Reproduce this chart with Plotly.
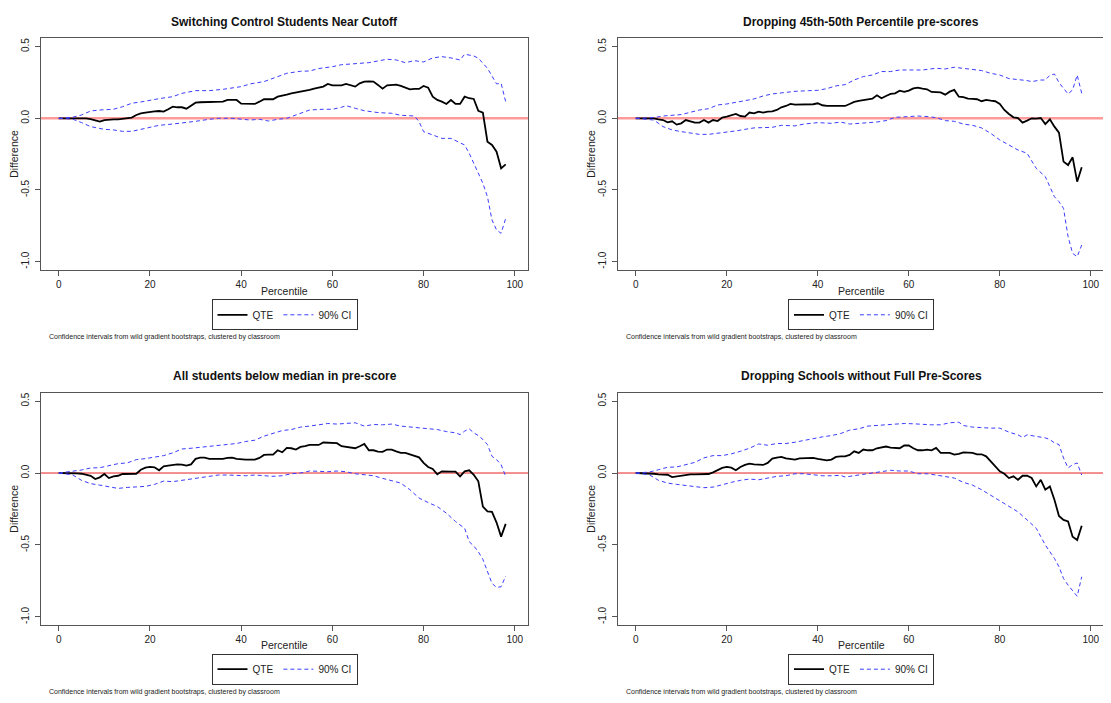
import plotly.graph_objects as go

# ---------------- data ----------------
titles = ["Switching Control Students Near Cutoff",
          "Dropping 45th-50th Percentile pre-scores",
          "All students below median in pre-score",
          "Dropping Schools without Full Pre-Scores"]
note_text = "Confidence intervals from wild gradient bootstraps, clustered by classroom"
x_ticks = [0, 20, 40, 60, 80, 100]
y_ticks = [-1.0, -0.5, 0.0, 0.5]
y_tick_labels = ["-1.0", "-0.5", "0.0", "0.5"]

percentile = list(range(99))

p1_qte = [0, 0, 0, 0, 0.003, 0, 0, -0.005, -0.015, -0.023,
          -0.012, -0.007, -0.007, -0.007, -0.002, 0.005, 0.005, 0.023, 0.035, 0.04,
          0.047, 0.049, 0.051, 0.047, 0.063, 0.081, 0.077, 0.077, 0.067, 0.086,
          0.109, 0.112, 0.112, 0.112, 0.114, 0.116, 0.116, 0.128, 0.128, 0.128,
          0.102, 0.1, 0.1, 0.1, 0.116, 0.133, 0.133, 0.133, 0.151, 0.156,
          0.165, 0.174, 0.179, 0.184, 0.193, 0.198, 0.207, 0.216, 0.221, 0.24,
          0.23, 0.23, 0.23, 0.24, 0.233, 0.221, 0.244, 0.256, 0.258, 0.256,
          0.233, 0.207, 0.23, 0.235, 0.235, 0.226, 0.216, 0.202, 0.205, 0.205,
          0.226, 0.214, 0.151, 0.128, 0.116, 0.1, 0.128, 0.1, 0.1, 0.151,
          0.14, 0.135, 0.053, 0.04, -0.163, -0.186, -0.233, -0.349, -0.321]
p1_hi_x = [0, 3, 5, 7, 9, 12, 14, 16, 18, 20, 22, 25, 27, 30, 33, 36, 40, 42, 45, 47,
           50, 53, 55, 57, 60, 62, 65, 68, 70, 72, 74, 76, 78, 80, 82, 84, 86, 88, 89, 91,
           92, 93, 94, 95, 96, 97, 98]
p1_hi = [0, 0.007, 0.023, 0.051, 0.058, 0.063, 0.081, 0.105, 0.114, 0.128,
         0.137, 0.151, 0.174, 0.193, 0.193, 0.202, 0.221, 0.24, 0.256, 0.279,
         0.314, 0.328, 0.33, 0.347, 0.36, 0.374, 0.379, 0.388, 0.4, 0.412,
         0.407, 0.388, 0.402, 0.393, 0.421, 0.43, 0.421, 0.407, 0.447, 0.435,
         0.419, 0.384, 0.349, 0.295, 0.24, 0.244, 0.116]
p1_lo_x = [0, 3, 5, 7, 10, 12, 14, 16, 18, 20, 22, 25, 28, 30, 33, 35, 38, 40, 42, 44,
           46, 48, 50, 52, 55, 58, 60, 62, 63, 65, 67, 70, 73, 75, 77, 78, 79, 80, 82, 84,
           86, 88, 89, 90, 91, 92, 93, 94, 95, 96, 97, 98]
p1_lo = [0, -0.005, -0.03, -0.058, -0.077, -0.081, -0.091, -0.091, -0.077, -0.063,
         -0.049, -0.04, -0.03, -0.021, -0.007, 0, 0, -0.007, -0.012, -0.007,
         -0.019, -0.007, 0, 0.023, 0.058, 0.063, 0.063, 0.077, 0.088, 0.07,
         0.053, 0.04, 0.035, 0.021, 0.016, 0.016, -0.023, -0.093, -0.116, -0.14,
         -0.14, -0.17, -0.186, -0.244, -0.314, -0.384, -0.453, -0.547, -0.709, -0.779,
         -0.802, -0.698]

p2_qte = [0, 0, 0, 0, 0, -0.007, -0.012, -0.028, -0.021, -0.044,
          -0.035, -0.012, -0.023, -0.03, -0.03, -0.012, -0.03, -0.012, -0.019, 0.005,
          0.012, 0.021, 0.03, 0.016, 0.012, 0.04, 0.035, 0.047, 0.04, 0.047,
          0.049, 0.058, 0.077, 0.086, 0.1, 0.095, 0.095, 0.095, 0.095, 0.098,
          0.105, 0.091, 0.086, 0.086, 0.086, 0.086, 0.086, 0.1, 0.114, 0.121,
          0.128, 0.133, 0.137, 0.16, 0.14, 0.156, 0.17, 0.174, 0.193, 0.184,
          0.193, 0.209, 0.214, 0.207, 0.202, 0.184, 0.184, 0.181, 0.165, 0.186,
          0.198, 0.151, 0.147, 0.137, 0.135, 0.133, 0.119, 0.128, 0.123, 0.119,
          0.1, 0.058, 0.03, 0.007, 0.002, -0.03, -0.016, 0, -0.002, 0.002,
          -0.04, -0.007, -0.058, -0.1, -0.302, -0.326, -0.272, -0.442, -0.342]
p2_hi_x = [0, 4, 6, 8, 10, 12, 14, 16, 18, 20, 22, 24, 26, 28, 30, 32, 35, 38, 40, 42,
           44, 46, 48, 50, 52, 54, 56, 58, 60, 63, 66, 68, 70, 72, 74, 76, 78, 80, 82, 84,
           86, 87, 88, 89, 90, 91, 92, 93, 94, 95, 96, 97, 98]
p2_hi = [0, 0.005, 0.016, 0.023, 0.026, 0.042, 0.058, 0.067, 0.093, 0.1,
         0.109, 0.123, 0.135, 0.156, 0.17, 0.177, 0.188, 0.193, 0.195, 0.207,
         0.226, 0.235, 0.267, 0.291, 0.302, 0.326, 0.326, 0.337, 0.337, 0.337,
         0.349, 0.344, 0.356, 0.349, 0.342, 0.333, 0.314, 0.302, 0.277, 0.272,
         0.263, 0.256, 0.263, 0.267, 0.267, 0.3, 0.309, 0.249, 0.209, 0.17,
         0.198, 0.302, 0.174]
p2_lo_x = [0, 4, 6, 8, 10, 12, 14, 16, 18, 20, 22, 24, 26, 28, 30, 32, 35, 37, 40, 43,
           45, 47, 50, 53, 55, 57, 60, 62, 64, 66, 68, 70, 72, 74, 76, 78, 80, 82, 84, 86,
           88, 90, 92, 93, 94, 95, 96, 97, 98]
p2_lo = [0, -0.012, -0.058, -0.081, -0.093, -0.105, -0.112, -0.112, -0.105, -0.1,
         -0.088, -0.077, -0.067, -0.065, -0.063, -0.049, -0.053, -0.04, -0.03, -0.035,
         -0.026, -0.04, -0.035, -0.026, -0.016, 0.007, 0.012, 0.016, 0.012, 0.005,
         -0.016, -0.021, -0.04, -0.049, -0.067, -0.105, -0.151, -0.188, -0.221, -0.244,
         -0.349, -0.407, -0.547, -0.581, -0.628, -0.826, -0.942, -0.965, -0.884]

p3_qte = [0, 0, 0.002, 0.002, -0.002, -0.005, -0.012, -0.019, -0.042, -0.03,
          -0.007, -0.035, -0.023, -0.019, -0.007, -0.005, -0.005, -0.005, 0.023, 0.037,
          0.042, 0.04, 0.019, 0.047, 0.051, 0.056, 0.06, 0.058, 0.051, 0.06,
          0.098, 0.107, 0.107, 0.098, 0.098, 0.098, 0.098, 0.105, 0.107, 0.098,
          0.093, 0.093, 0.093, 0.093, 0.105, 0.126, 0.128, 0.128, 0.158, 0.144,
          0.174, 0.172, 0.163, 0.181, 0.186, 0.195, 0.195, 0.195, 0.212, 0.209,
          0.207, 0.207, 0.186, 0.181, 0.181, 0.172, 0.186, 0.202, 0.158, 0.158,
          0.149, 0.147, 0.163, 0.163, 0.151, 0.14, 0.14, 0.13, 0.121, 0.109,
          0.07, 0.042, 0.028, -0.009, 0.012, 0.009, 0.009, 0.009, -0.023, 0.012,
          0.019, -0.012, -0.058, -0.233, -0.267, -0.27, -0.344, -0.442, -0.353]
p3_hi_x = [0, 3, 5, 7, 9, 11, 13, 15, 17, 19, 21, 23, 25, 27, 29, 31, 33, 35, 37, 39,
           41, 43, 45, 47, 49, 51, 53, 55, 57, 59, 61, 63, 65, 67, 69, 71, 73, 75, 77, 79,
           81, 83, 85, 87, 88, 89, 90, 91, 92, 93, 94, 95, 96, 97, 98]
p3_hi = [0, 0.012, 0.021, 0.035, 0.037, 0.051, 0.065, 0.07, 0.093, 0.1,
         0.112, 0.121, 0.14, 0.167, 0.172, 0.179, 0.181, 0.191, 0.195, 0.205,
         0.219, 0.228, 0.256, 0.274, 0.295, 0.302, 0.319, 0.326, 0.333, 0.344,
         0.34, 0.344, 0.349, 0.326, 0.337, 0.335, 0.34, 0.326, 0.321, 0.316,
         0.307, 0.302, 0.288, 0.279, 0.267, 0.291, 0.307, 0.279, 0.26, 0.233,
         0.198, 0.116, 0.093, 0.058, -0.023]
p3_lo_x = [0, 3, 5, 7, 9, 11, 13, 15, 17, 19, 21, 23, 25, 27, 29, 31, 33, 35, 37, 39,
           41, 43, 45, 47, 49, 51, 53, 55, 57, 59, 61, 63, 65, 67, 69, 71, 73, 75, 77, 79,
           81, 83, 85, 87, 89, 90, 91, 92, 93, 94, 95, 96, 97, 98]
p3_lo = [0, -0.012, -0.051, -0.074, -0.084, -0.093, -0.107, -0.1, -0.098, -0.093,
         -0.079, -0.056, -0.06, -0.051, -0.037, -0.028, -0.019, -0.014, -0.014, -0.019,
         -0.019, -0.014, -0.019, -0.023, -0.019, -0.005, 0, 0.014, 0.012, 0.009,
         0.014, 0.009, -0.005, -0.014, -0.019, -0.037, -0.051, -0.07, -0.116, -0.174,
         -0.205, -0.233, -0.279, -0.337, -0.384, -0.477, -0.507, -0.547, -0.6, -0.686,
         -0.767, -0.795, -0.79, -0.716]

p4_qte = [0, 0, 0, -0.002, -0.005, -0.009, -0.01, -0.012, -0.028, -0.023,
          -0.014, -0.009, -0.009, -0.009, -0.009, -0.007, -0.007, 0.005, 0.019, 0.035,
          0.042, 0.037, 0.019, 0.042, 0.056, 0.065, 0.06, 0.06, 0.056, 0.07,
          0.1, 0.107, 0.112, 0.102, 0.098, 0.093, 0.102, 0.102, 0.107, 0.105,
          0.098, 0.093, 0.088, 0.093, 0.112, 0.116, 0.116, 0.126, 0.151, 0.14,
          0.163, 0.158, 0.158, 0.172, 0.177, 0.184, 0.177, 0.172, 0.172, 0.191,
          0.191, 0.172, 0.158, 0.158, 0.163, 0.158, 0.174, 0.14, 0.14, 0.14,
          0.128, 0.133, 0.144, 0.144, 0.14, 0.13, 0.13, 0.116, 0.081, 0.047,
          0.012, -0.005, -0.035, -0.023, -0.047, -0.019, -0.019, -0.035, -0.093, -0.047,
          -0.116, -0.093, -0.186, -0.298, -0.326, -0.337, -0.442, -0.465, -0.367]
p4_hi_x = [0, 3, 5, 7, 9, 11, 13, 15, 17, 19, 21, 23, 25, 27, 29, 31, 33, 35, 37, 39,
           41, 43, 45, 47, 49, 51, 53, 55, 57, 59, 61, 63, 65, 67, 69, 71, 72, 74, 76, 78,
           80, 82, 84, 85, 86, 88, 90, 91, 92, 93, 94, 95, 96, 97, 98]
p4_hi = [0, 0.007, 0.023, 0.04, 0.042, 0.056, 0.074, 0.105, 0.121, 0.121,
         0.133, 0.151, 0.172, 0.202, 0.193, 0.205, 0.205, 0.214, 0.228, 0.237,
         0.251, 0.26, 0.274, 0.298, 0.307, 0.326, 0.33, 0.337, 0.34, 0.344,
         0.342, 0.337, 0.335, 0.335, 0.349, 0.353, 0.33, 0.319, 0.314, 0.312,
         0.312, 0.284, 0.265, 0.247, 0.265, 0.256, 0.244, 0.233, 0.209, 0.198,
         0.105, 0.035, 0.058, 0.07, -0.014]
p4_lo_x = [0, 3, 5, 7, 9, 11, 13, 15, 17, 19, 21, 23, 25, 27, 29, 31, 33, 35, 37, 39,
           41, 43, 45, 46, 48, 50, 52, 54, 56, 58, 60, 62, 64, 66, 68, 70, 72, 74, 76, 78,
           80, 82, 84, 86, 88, 89, 90, 91, 92, 93, 94, 95, 96, 97, 98]
p4_lo = [0, -0.012, -0.051, -0.07, -0.079, -0.088, -0.093, -0.102, -0.098, -0.079,
         -0.065, -0.051, -0.042, -0.047, -0.033, -0.023, -0.019, -0.005, -0.005, -0.014,
         -0.019, -0.019, -0.016, -0.028, -0.019, -0.012, 0, 0.009, 0.019, 0.014,
         0.014, -0.005, -0.005, -0.014, -0.023, -0.035, -0.065, -0.084, -0.116, -0.153,
         -0.191, -0.233, -0.27, -0.326, -0.384, -0.442, -0.5, -0.547, -0.593, -0.651,
         -0.733, -0.779, -0.814, -0.856, -0.721]

# ---------------- figure ----------------
W, H = 1111, 703
OFF = 8.0  # the page body places the figure 8px from the window's top-left corner
FONT = "Liberation Sans, Arial, sans-serif"
QTE_COLOR = "#000000"
CI_COLOR = "#3c3cff"
BOX_COLOR = "#555555"


def px(xw):
    return (xw - OFF) / W


def py(yw):
    return 1 - (yw - OFF) / H


panels = [
    (p1_qte, p1_hi_x, p1_hi, p1_lo_x, p1_lo),
    (p2_qte, p2_hi_x, p2_hi, p2_lo_x, p2_lo),
    (p3_qte, p3_hi_x, p3_hi, p3_lo_x, p3_lo),
    (p4_qte, p4_hi_x, p4_hi, p4_lo_x, p4_lo),
]

# plot-box geometry in window pixels (left, right, top, bottom)
boxes = [(40.7, 528.3, 38.3, 270.0), (617.7, 1104.3, 38.3, 270.0),
         (40.7, 528.3, 392.7, 625.3), (617.7, 1104.3, 392.7, 625.3)]
zero_line = [("#ff9a9a", 2.5), ("#ff9a9a", 2.5), ("#e82020", 1), ("#e82020", 1)]

fig = go.Figure()
layout = dict(width=W, height=H, margin=dict(l=0, r=0, t=0, b=0),
              paper_bgcolor="white", plot_bgcolor="white",
              font=dict(family=FONT, size=10, color="#222"),
              showlegend=True)
annotations = []
shapes = []

for i, (qte, hx, hi, lx, lo) in enumerate(panels):
    k = i + 1
    sfx = "" if k == 1 else str(k)
    xa, ya = "x" + sfx, "y" + sfx
    leg = "legend" + sfx
    L, R, T, B = boxes[i]

    fig.add_trace(go.Scatter(x=percentile, y=qte, mode="lines", name="QTE",
                             line=dict(color=QTE_COLOR, width=1.8),
                             xaxis=xa, yaxis=ya, legend=leg, legendgroup="qte%d" % k))
    fig.add_trace(go.Scatter(x=hx, y=hi, mode="lines", name="90% CI",
                             line=dict(color=CI_COLOR, width=1, dash="4px,3px"),
                             xaxis=xa, yaxis=ya, legend=leg, legendgroup="ci%d" % k))
    fig.add_trace(go.Scatter(x=lx, y=lo, mode="lines", name="90% CI", showlegend=False,
                             line=dict(color=CI_COLOR, width=1, dash="4px,3px"),
                             xaxis=xa, yaxis=ya, legend=leg, legendgroup="ci%d" % k))

    layout["xaxis" + sfx] = dict(
        domain=[px(L), px(R)], anchor=ya, range=[-3.96, 102.96],
        tickmode="array", tickvals=x_ticks, ticks="outside", ticklen=5,
        tickcolor=BOX_COLOR, showline=True, linecolor=BOX_COLOR, linewidth=1,
        mirror=True, showgrid=False, zeroline=False,
        tickfont=dict(size=10, color="#222"))
    layout["yaxis" + sfx] = dict(
        domain=[py(B), py(T)], anchor=xa, range=[-1.058, 0.558],
        tickmode="array", tickvals=y_ticks, ticktext=y_tick_labels, tickangle=-90,
        ticks="outside", ticklen=5, tickcolor=BOX_COLOR, showline=True,
        linecolor=BOX_COLOR, linewidth=1, mirror=True, showgrid=False,
        zeroline=False, ticklabelstandoff=2, tickfont=dict(size=10, color="#222"))

    col, wdt = zero_line[i]
    shapes.append(dict(type="line", xref=xa + " domain", x0=0, x1=1,
                       yref=ya, y0=0, y1=0, layer="below",
                       line=dict(color=col, width=wdt)))

    cx = (L + R) / 2
    dy = T - 38.3
    annotations.append(dict(text="<b>%s</b>" % titles[i], x=px(cx), y=py(21.7 + dy),
                            xref="paper", yref="paper", showarrow=False,
                            xanchor="center", yanchor="middle",
                            font=dict(size=12, color="#111")))
    annotations.append(dict(text="Percentile", x=px(cx), y=py(290.7 + dy),
                            xref="paper", yref="paper", showarrow=False,
                            xanchor="center", yanchor="middle",
                            font=dict(size=10.5, color="#222")))
    annotations.append(dict(text="Difference", x=px(L - 27), y=py((T + B) / 2),
                            xref="paper", yref="paper", showarrow=False, textangle=-90,
                            xanchor="center", yanchor="middle",
                            font=dict(size=10.5, color="#222")))
    annotations.append(dict(text=note_text, x=px(L + 6), y=py(337.3 + dy),
                            xref="paper", yref="paper", showarrow=False,
                            xanchor="left", yanchor="middle",
                            font=dict(size=7, color="#222")))

    layout[leg] = dict(orientation="h", x=px(cx), xanchor="center",
                       y=py(299.3 + dy), yanchor="top",
                       bordercolor="#333", borderwidth=1, bgcolor="white",
                       itemwidth=30, traceorder="normal",
                       font=dict(size=10, color="#222"))

layout["annotations"] = annotations
layout["shapes"] = shapes
fig.update_layout(**layout)
fig.write_html("out.html")
